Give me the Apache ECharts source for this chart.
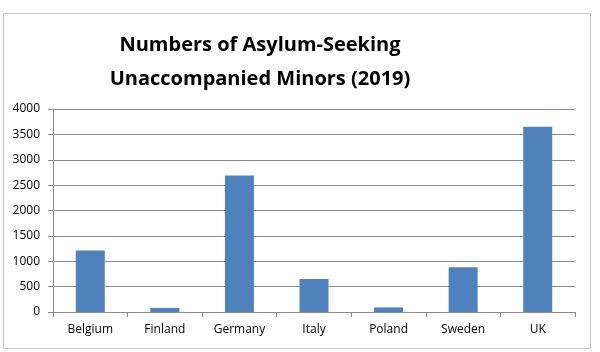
<!DOCTYPE html>
<html>
<head>
<meta charset="utf-8">
<title>Asylum-Seeking Unaccompanied Minors</title>
<script src="https://cdn.jsdelivr.net/npm/echarts@6/dist/echarts.min.js"></script>
<style>
  html, body { margin: 0; padding: 0; background: #fff; }
  #chart { width: 600px; height: 352px; }
</style>
</head>
<body>
<div id="chart"></div>
<script>
// values
const countries = ['Belgium', 'Finland', 'Germany', 'Italy', 'Poland', 'Sweden', 'UK']
const minors = [1210, 80, 2690, 650, 90, 880, 3650]

const font = 'Open Sans'
const gridColor = '#8c8c8c'

const chart = echarts.init(document.getElementById('chart'))
chart.setOption({
  animation: false,
  title: {
    text: 'Numbers of Asylum-Seeking\nUnaccompanied Minors (2019)',
    left: 255,
    top: 23,
    textAlign: 'center',
    textStyle: { fontFamily: font, fontSize: 20, fontWeight: 'bold', color: '#000', lineHeight: 34 }
  },
  graphic: [{
    type: 'rect',
    shape: { x: 3.5, y: 13.5, width: 587, height: 335 },
    style: { fill: 'none', stroke: '#c8c8c8', lineWidth: 1 },
    silent: true
  }],
  grid: { left: 53, right: 25, top: 109, bottom: 40 },
  xAxis: {
    type: 'category',
    data: countries,
    axisLine: { lineStyle: { color: gridColor } },
    axisTick: { show: true, length: 5, lineStyle: { color: gridColor } },
    axisLabel: { fontFamily: font, fontSize: 12, color: '#000', margin: 12 }
  },
  yAxis: {
    type: 'value',
    min: 0,
    max: 4000,
    interval: 500,
    axisLine: { show: true, lineStyle: { color: gridColor } },
    axisTick: { show: true, length: 5, lineStyle: { color: gridColor } },
    axisLabel: { fontFamily: font, fontSize: 12, color: '#000', margin: 13, formatter: (v) => String(v) },
    splitLine: { lineStyle: { color: gridColor } }
  },
  series: [{
    type: 'bar',
    data: minors,
    barWidth: 29,
    itemStyle: { color: '#4f81bd' }
  }]
})
</script>
</body>
</html>
